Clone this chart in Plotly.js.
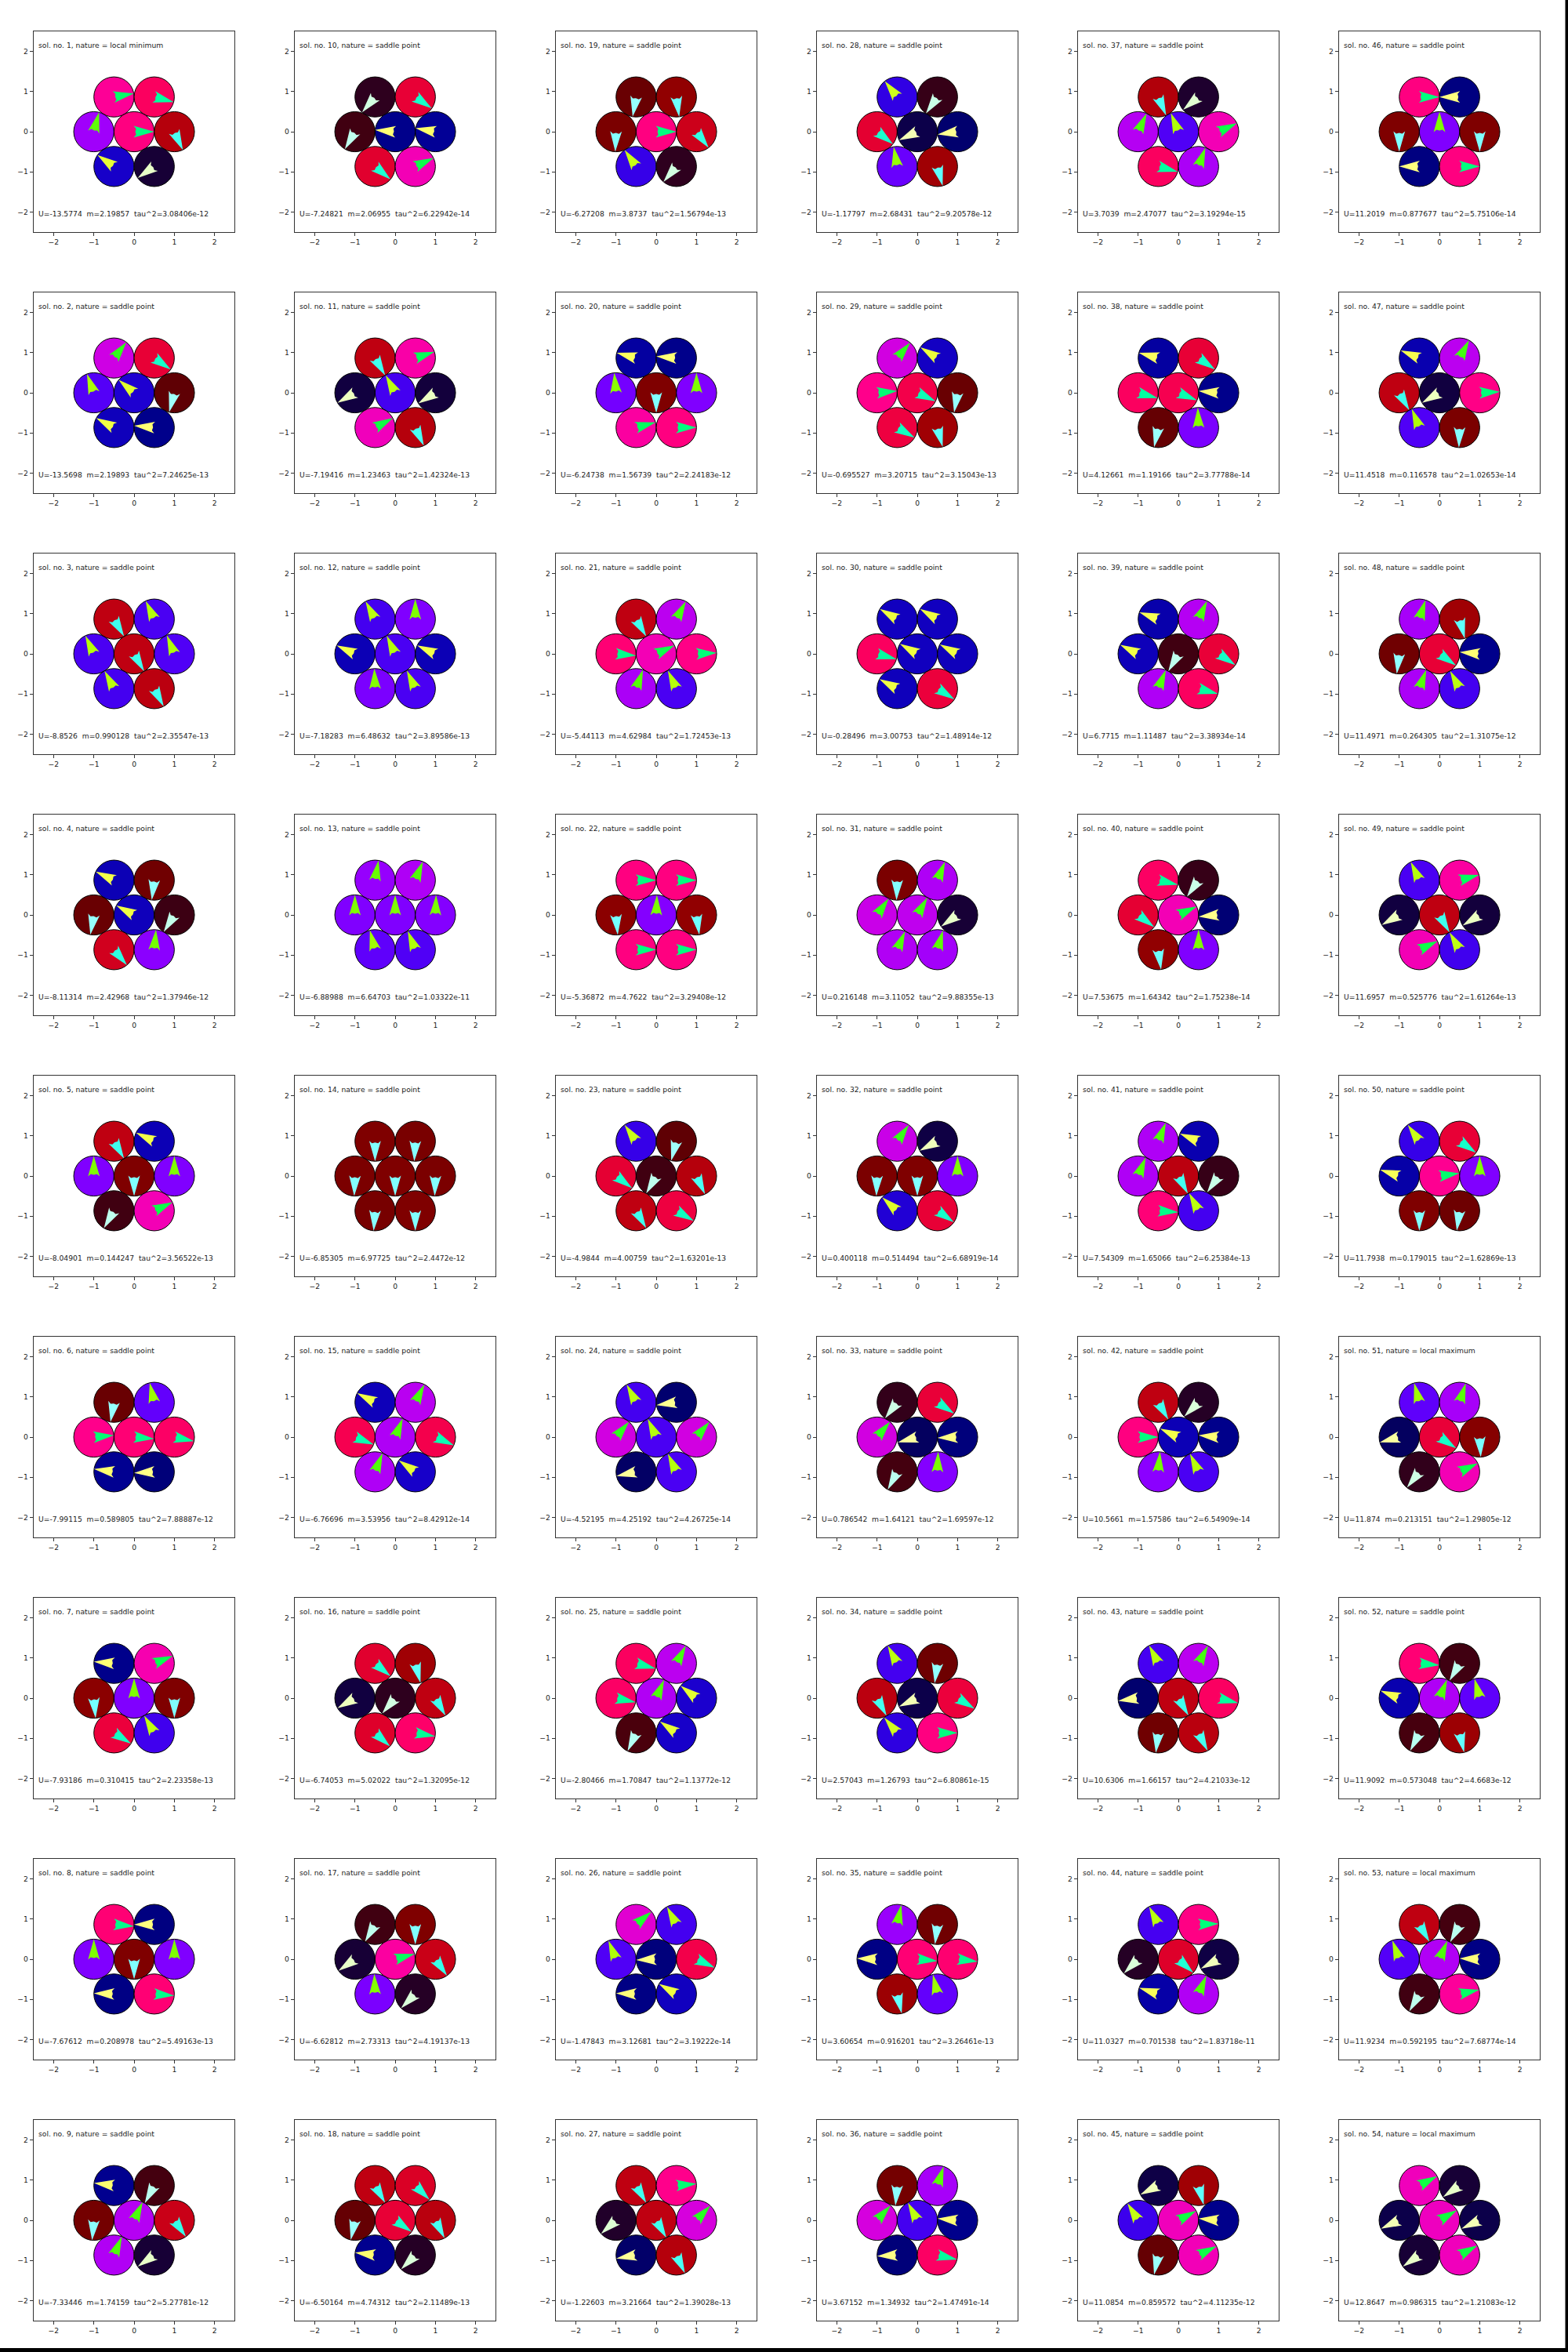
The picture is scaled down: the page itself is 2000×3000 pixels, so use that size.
<!DOCTYPE html>
<html><head><meta charset="utf-8">
<script src="https://cdn.plot.ly/plotly-3.0.1.min.js"></script>
<style>html,body{margin:0;padding:0;background:#fff}</style>
</head><body>
<div id="chart" style="width:2000px;height:3000px"></div>
<script>
// ---------------- data ----------------
const solNo = [];
for (let i = 1; i <= 54; i++) solNo.push(i);
const nature = [
  "local minimum","saddle point","saddle point","saddle point","saddle point","saddle point","saddle point","saddle point","saddle point",
  "saddle point","saddle point","saddle point","saddle point","saddle point","saddle point","saddle point","saddle point","saddle point",
  "saddle point","saddle point","saddle point","saddle point","saddle point","saddle point","saddle point","saddle point","saddle point",
  "saddle point","saddle point","saddle point","saddle point","saddle point","saddle point","saddle point","saddle point","saddle point",
  "saddle point","saddle point","saddle point","saddle point","saddle point","saddle point","saddle point","saddle point","saddle point",
  "saddle point","saddle point","saddle point","saddle point","saddle point","local maximum","saddle point","local maximum","local maximum"
];
const U = [-13.5774,-13.5698,-8.8526,-8.11314,-8.04901,-7.99115,-7.93186,-7.67612,-7.33446,
  -7.24821,-7.19416,-7.18283,-6.88988,-6.85305,-6.76696,-6.74053,-6.62812,-6.50164,
  -6.27208,-6.24738,-5.44113,-5.36872,-4.9844,-4.52195,-2.80466,-1.47843,-1.22603,
  -1.17797,-0.695527,-0.28496,0.216148,0.400118,0.786542,2.57043,3.60654,3.67152,
  3.7039,4.12661,6.7715,7.53675,7.54309,10.5661,10.6306,11.0327,11.0854,
  11.2019,11.4518,11.4971,11.6957,11.7938,11.874,11.9092,11.9234,12.8647];
const mVal = [2.19857,2.19893,0.990128,2.42968,0.144247,0.589805,0.310415,0.208978,1.74159,
  2.06955,1.23463,6.48632,6.64703,6.97725,3.53956,5.02022,2.73313,4.74312,
  3.8737,1.56739,4.62984,4.7622,4.00759,4.25192,1.70847,3.12681,3.21664,
  2.68431,3.20715,3.00753,3.11052,0.514494,1.64121,1.26793,0.916201,1.34932,
  2.47077,1.19166,1.11487,1.64342,1.65066,1.57586,1.66157,0.701538,0.859572,
  0.877677,0.116578,0.264305,0.525776,0.179015,0.213151,0.573048,0.592195,0.986315];
const tau2 = [3.08406e-12,7.24625e-13,2.35547e-13,1.37946e-12,3.56522e-13,7.88887e-12,2.23358e-13,5.49163e-13,5.27781e-12,
  6.22942e-14,1.42324e-13,3.89586e-13,1.03322e-11,2.4472e-12,8.42912e-14,1.32095e-12,4.19137e-13,2.11489e-13,
  1.56794e-13,2.24183e-12,1.72453e-13,3.29408e-12,1.63201e-13,4.26725e-14,1.13772e-12,3.19222e-14,1.39028e-13,
  9.20578e-12,3.15043e-13,1.48914e-12,9.88355e-13,6.68919e-14,1.69597e-12,6.80861e-15,3.26461e-13,1.47491e-14,
  3.19294e-15,3.77788e-14,3.38934e-14,1.75238e-14,6.25384e-13,6.54909e-14,4.21033e-12,1.83718e-11,4.11235e-12,
  5.75106e-14,1.02653e-14,1.31075e-12,1.61264e-13,1.62869e-13,1.29805e-12,4.6683e-12,7.68774e-14,1.21083e-12];

// hexagonal cluster: top-left, top-right, mid-left, centre, mid-right, bottom-left, bottom-right
const hexX = [-0.5, 0.5, -1, 0, 1, -0.5, 0.5];
const hexY = [0.866, 0.866, 0, 0, 0, -0.866, -0.866];

// spin angle (degrees) of each of the 7 discs, per solution
const spinAngles = [
  [10,345,75,0,295,145,215],
  [52,325,110,140,255,152,175],
  [300,115,115,300,112,118,298],
  [155,263,260,152,238,310,85],
  [300,155,90,270,90,240,25],
  [260,103,5,355,348,172,183],
  [175,22,275,90,270,328,120],
  [355,180,90,270,90,178,355],
  [173,242,265,65,305,67,215],
  [230,325,240,175,170,320,25],
  [300,18,210,118,212,28,295],
  [118,90,155,115,155,92,115],
  [80,68,90,90,88,105,112],
  [270,267,268,270,268,266,270],
  [153,63,338,68,336,68,145],
  [320,285,210,230,300,318,350],
  [240,270,215,15,305,92,225],
  [300,315,258,325,297,173,225],
  [260,278,268,0,307,125,230],
  [165,175,95,270,90,15,0],
  [300,62,355,25,3,70,115],
  [0,0,275,88,278,0,0],
  [125,255,323,240,295,300,330],
  [118,188,50,115,50,192,115],
  [345,62,348,67,142,245,145],
  [40,118,112,182,335,178,150],
  [300,5,222,300,47,190,295],
  [128,235,322,205,188,100,285],
  [50,148,5,335,260,330,285],
  [150,150,345,150,152,152,328],
  [268,68,55,60,215,67,74],
  [55,208,268,270,90,138,325],
  [233,326,50,195,182,242,88],
  [118,262,298,205,328,130,0],
  [78,263,178,355,353,283,103],
  [265,72,48,118,175,183,347],
  [293,220,65,112,25,345,70],
  [165,325,345,338,175,258,92],
  [160,65,153,240,326,68,345],
  [347,235,323,25,185,278,90],
  [68,158,68,298,235,356,118],
  [300,225,0,155,175,85,115],
  [117,62,188,300,346,263,297],
  [117,2,225,318,208,162,67],
  [207,285,122,28,175,258,26],
  [0,180,270,90,270,180,0],
  [158,62,300,210,3,112,268],
  [72,285,263,325,175,70,118],
  [115,15,210,300,212,25,120],
  [125,325,162,8,90,270,262],
  [105,72,195,326,273,232,25],
  [355,240,158,68,105,243,283],
  [300,242,110,67,178,240,12],
  [28,215,205,30,205,215,28]
];
const tickVals = [-2, -1, 0, 1, 2];
const tickText = ["\u22122", "\u22121", "0", "1", "2"];

// ---------------- build ----------------
function discRGB(deg) {
  const t = deg * Math.PI / 180;
  return [Math.round(255 * (0.5 + 0.5 * Math.cos(t))), 0, Math.round(255 * (0.5 + 0.5 * Math.sin(t)))];
}
function rgbStr(c) { return 'rgb(' + c[0] + ',' + c[1] + ',' + c[2] + ')'; }

// arrow outline in local frame (u along spin, v perpendicular)
const arrowU = [0.5, -0.01, 0.05, 0.03, 0.05, -0.01];
const arrowV = [0.0, 0.145, 0.075, 0.0, -0.075, -0.145];

const W = 2000, H = 3000;
const colLeft = 42.7, rowTop = 40, step = 333, boxW = 256.7, boxH = 256;
const font = {family: 'DejaVu Sans, sans-serif', size: 9.2, color: '#1a1a1a'};

const layout = {
  width: W, height: H, margin: {l: 0, r: 0, t: 0, b: 0},
  paper_bgcolor: '#ffffff', plot_bgcolor: '#ffffff',
  showlegend: false, shapes: [], annotations: [], font: font
};
const traces = [];

for (let k = 0; k < solNo.length; k++) {
  const idx = k + 1;
  const col = Math.floor(k / 9), row = k % 9;
  const xn = 'xaxis' + (idx === 1 ? '' : idx), yn = 'yaxis' + (idx === 1 ? '' : idx);
  const xr = 'x' + (idx === 1 ? '' : idx), yr = 'y' + (idx === 1 ? '' : idx);
  const x0 = colLeft + step * col, y0 = rowTop + step * row;
  const axBase = {
    range: [-2.5, 2.5], tickvals: tickVals, ticktext: tickText,
    ticks: 'outside', ticklen: 4, tickwidth: 1, tickcolor: '#333',
    showline: true, mirror: true, linecolor: '#333', linewidth: 1,
    showgrid: false, zeroline: false, fixedrange: true,
    tickfont: {family: 'DejaVu Sans, sans-serif', size: 9.2, color: '#1a1a1a'}
  };
  layout[xn] = Object.assign({}, axBase, {domain: [x0 / W, (x0 + boxW) / W], anchor: yr});
  layout[yn] = Object.assign({}, axBase, {domain: [1 - (y0 + boxH) / H, 1 - y0 / H], anchor: xr});

  // invisible anchor trace so every subplot exists
  traces.push({type: 'scatter', x: hexX, y: hexY, xaxis: xr, yaxis: yr, mode: 'markers',
    marker: {size: 1, opacity: 0}, hoverinfo: 'skip'});

  const angs = spinAngles[k];
  for (let j = 0; j < hexX.length; j++) {
    const cx = hexX[j], cy = hexY[j];
    const c = discRGB(angs[j]);
    layout.shapes.push({type: 'circle', xref: xr, yref: yr,
      x0: cx - 0.5, x1: cx + 0.5, y0: cy - 0.5, y1: cy + 0.5,
      fillcolor: rgbStr(c), line: {color: '#000', width: 1}});
    const t = angs[j] * Math.PI / 180, ct = Math.cos(t), st = Math.sin(t);
    let p = '';
    for (let q = 0; q < arrowU.length; q++) {
      const px = cx + arrowU[q] * ct - arrowV[q] * st;
      const py = cy + arrowU[q] * st + arrowV[q] * ct;
      p += (q === 0 ? 'M' : 'L') + px.toFixed(4) + ',' + py.toFixed(4);
    }
    p += 'Z';
    layout.shapes.push({type: 'path', xref: xr, yref: yr, path: p,
      fillcolor: rgbStr([255 - c[0], 255, 255 - c[2]]), line: {width: 0}});
  }

  layout.annotations.push({xref: xr, yref: yr, x: -2.42, y: 2.16, xanchor: 'left', yanchor: 'middle',
    showarrow: false, text: 'sol. no. ' + solNo[k] + ', nature = ' + nature[k], font: font});
  layout.annotations.push({xref: xr, yref: yr, x: -2.42, y: -2.045, xanchor: 'left', yanchor: 'middle',
    showarrow: false, text: 'U=' + U[k] + '  m=' + mVal[k] + '  tau^2=' + tau2[k], font: font});
}
// thin black frame remnants at the right and bottom edges
layout.shapes.push({type: 'rect', xref: 'paper', yref: 'paper', x0: 1996.5 / W, x1: 1, y0: 0, y1: 1,
  fillcolor: '#000', line: {width: 0}});
layout.shapes.push({type: 'rect', xref: 'paper', yref: 'paper', x0: 0, x1: 1, y0: 0, y1: 5 / H,
  fillcolor: '#000', line: {width: 0}});

Plotly.newPlot('chart', traces, layout, {staticPlot: true, displayModeBar: false});
</script>
</body></html>
